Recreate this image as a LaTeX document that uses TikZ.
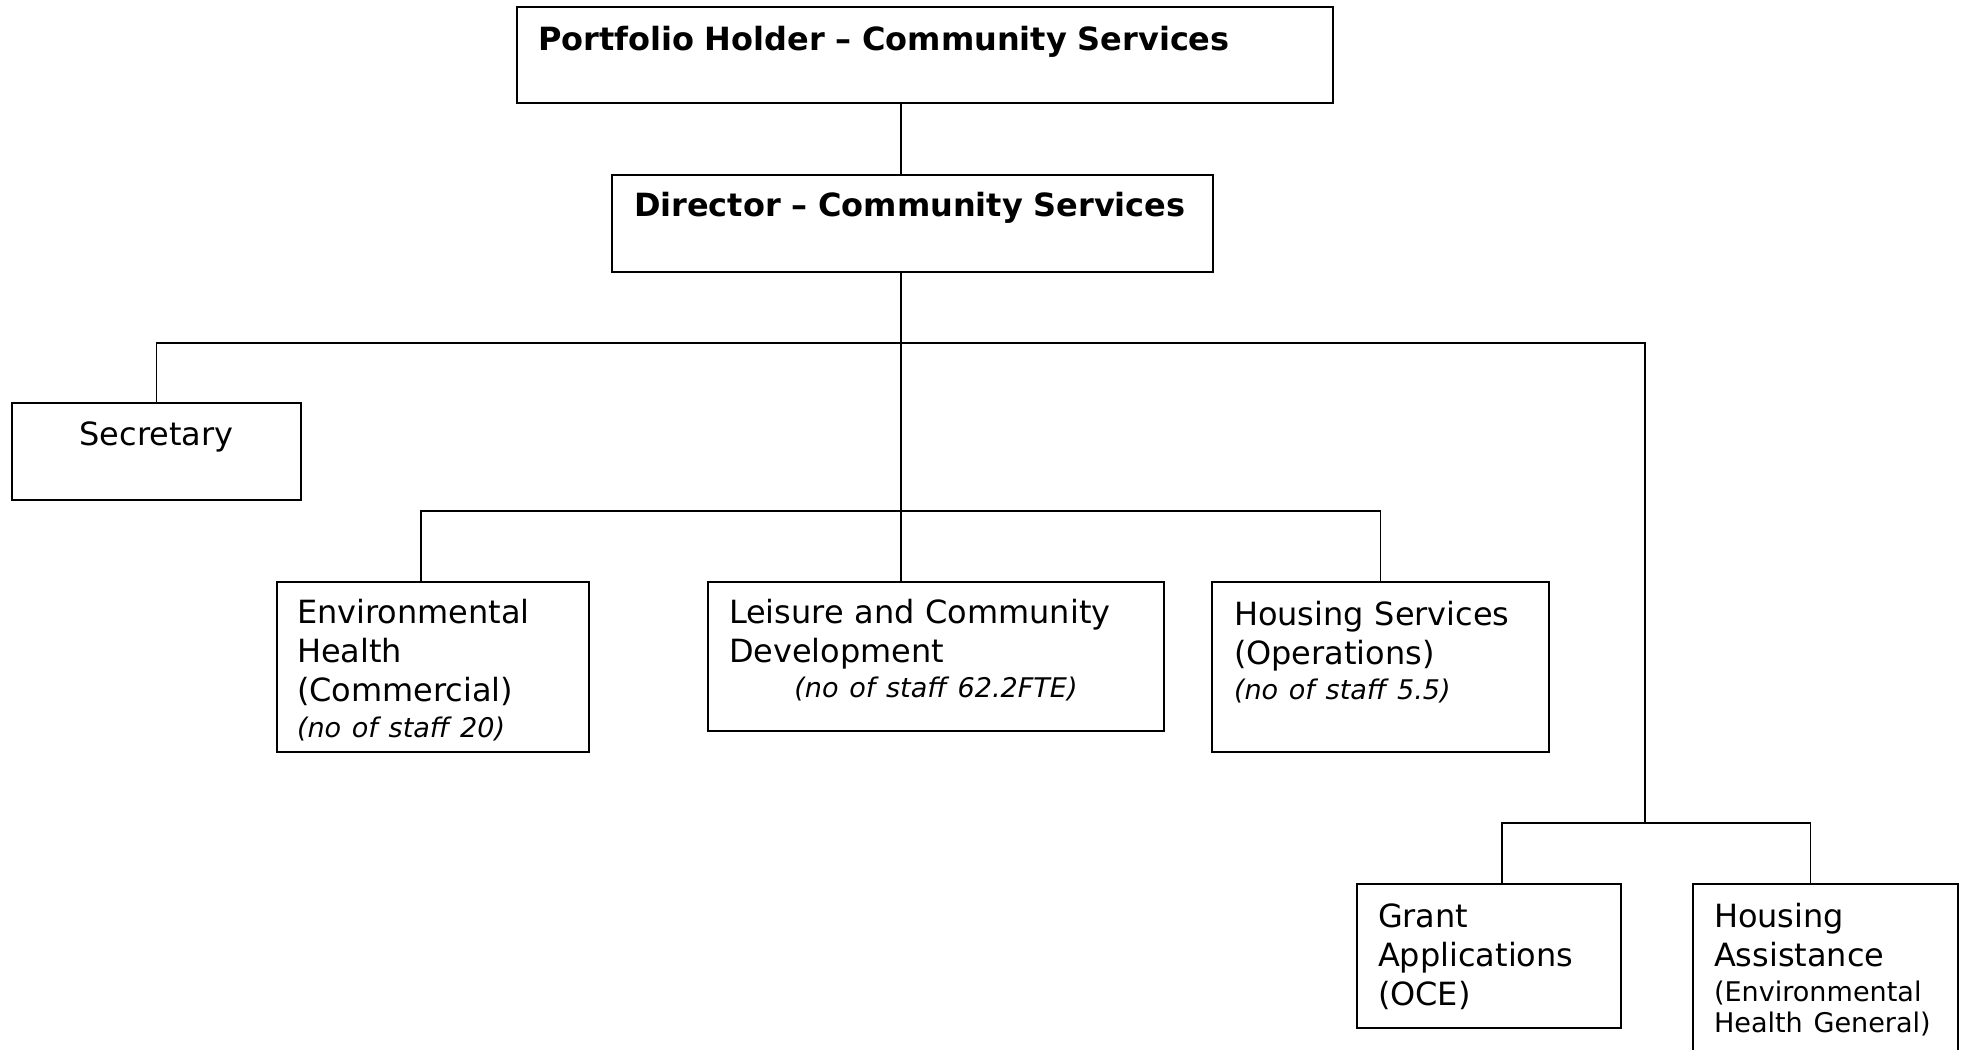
\documentclass[tikz,border=0pt]{standalone}
\usepackage{fontspec}
\setmainfont{DejaVu Sans}
\newcommand{\staff}[1]{{\fontsize{15.4}{18}\selectfont\itshape #1}}
\newcommand{\smalltext}[1]{{\fontsize{15.4}{18}\selectfont #1}}

\begin{document}
\begin{tikzpicture}[
    orgbox/.style={draw, line width=1pt, anchor=north west, align=left,
      inner xsep=0.42cm, inner ysep=0pt, outer sep=0pt,
      font=\fontsize{18.2}{22.4}\selectfont},
    link/.style={line width=0.7pt}
  ]
\useasboundingbox (0,0) rectangle (39.28,-20.98);

% Top of the chart
\node[orgbox, text width=15.48cm, text height=0.86cm, text depth=1.06cm] (portfolio) at (10.34,-0.14)
    {\textbf{Portfolio Holder – Community Services}};
\node[orgbox, inner xsep=0.44cm, text width=11.14cm, text height=0.83cm, text depth=1.11cm] (director) at (12.24,-3.50)
    {\textbf{Director – Community Services}};

\node[orgbox, align=center, text width=4.94cm, text height=0.84cm, text depth=1.10cm] (secretary) at (0.24,-8.06)
    {Secretary};

% Service units
\node[orgbox, inner xsep=0.40cm, text width=5.44cm, text height=0.82cm, text depth=2.58cm] (envhealth) at (5.54,-11.64)
    {Environmental\\Health\\(Commercial)\\[-2.2pt]\staff{(no of staff 20)}};
\node[orgbox, text width=8.28cm, text height=0.82cm, text depth=2.16cm] (leisure) at (14.16,-11.64)
    {Leisure and Community\\Development\\[-2.6pt]\makebox[8.28cm][c]{\staff{(no of staff 62.2FTE)}}};
\node[orgbox, inner xsep=0.44cm, text width=5.86cm, text height=0.86cm, text depth=2.54cm] (housingops) at (24.24,-11.64)
    {Housing Services\\(Operations)\\[-2.6pt]\staff{(no of staff 5.5)}};

\node[orgbox, text width=4.44cm, text height=0.86cm, text depth=2.02cm] (grant) at (27.14,-17.68)
    {Grant\\Applications\\(OCE)};
\node[orgbox, text width=4.46cm, text height=0.86cm, text depth=2.90cm] (assist) at (33.86,-17.68)
    {Housing\\Assistance\\[-2.5pt]\smalltext{(Environmental}\\[-4.8pt]\smalltext{Health General)}};

% Reporting lines
\coordinate (spine) at (18.02,-6.86);
\coordinate (midbar) at (18.02,-10.22);
\coordinate (hsplit) at (32.9,-16.46);

\draw[link] (portfolio.south -| spine) -- (director.north -| spine);
\draw[link] (director.south -| spine) -- (leisure.north -| spine);
\draw[link] (secretary.north) |- (spine) -| (hsplit);
\draw[link] ([xshift=-0.24cm]envhealth.north) |- (midbar) -| (housingops.north);
\draw[link] ([xshift=0.26cm]grant.north) |- (hsplit) -| ([xshift=-0.3cm]assist.north);
\end{tikzpicture}
\end{document}
